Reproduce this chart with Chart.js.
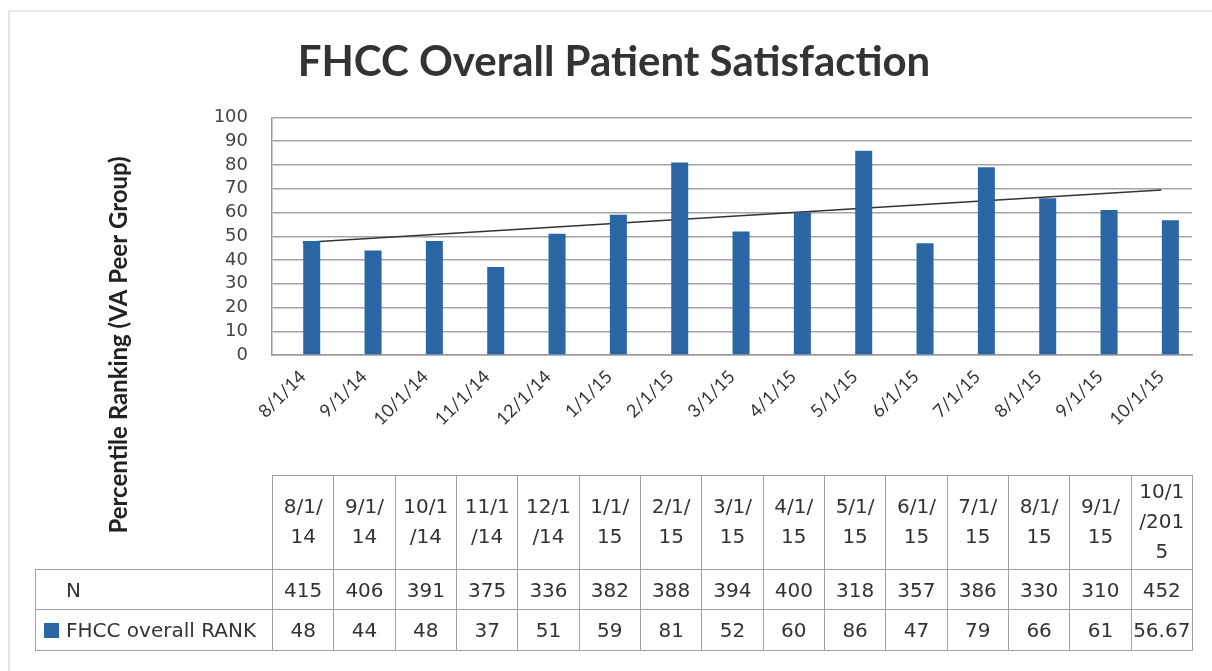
<!DOCTYPE html>
<html>
<head>
<meta charset="utf-8">
<script src="https://cdn.jsdelivr.net/npm/chart.js@4.4.1/dist/chart.umd.min.js"></script>
<style>
  html, body { margin: 0; padding: 0; background: #fff; }
  #wrap { position: relative; width: 1212px; height: 671px; overflow: hidden; }
  #frame { position: absolute; left: 8px; top: 10px; width: 1230px; height: 700px;
           border-left: 2px solid #e4e4e4; border-top: 2px solid #e8e8e8; }
  #chart { position: absolute; left: 0; top: 0; }
  #dataTable { position: absolute; left: 35px; top: 475px; border-collapse: collapse;
               table-layout: fixed; font-family: "DejaVu Sans", Verdana, sans-serif;
               font-size: 20px; color: #333; }
  #dataTable td { border: 1px solid #a0a0a0; text-align: center; padding: 0; }
  #dataTable td.empty { border-top: none; border-left: none; }
  #dataTable td.label { text-align: left; padding-left: 8px; white-space: nowrap; }
  #dataTable tr.head td { line-height: 30px; vertical-align: middle; padding-bottom: 3px; }
  .key { display: inline-block; width: 15px; height: 15px; margin-right: 7px; vertical-align: -1px; }
</style>
</head>
<body>
<div id="wrap">
  <div id="frame"></div>
  <canvas id="chart" width="1212" height="671"></canvas>
  <table id="dataTable"></table>
</div>
<script>
// chart data
const categories = ["8/1/14", "9/1/14", "10/1/14", "11/1/14", "12/1/14", "1/1/15", "2/1/15",
                    "3/1/15", "4/1/15", "5/1/15", "6/1/15", "7/1/15", "8/1/15", "9/1/15", "10/1/15"];
const tableHeaders = ["8/1/14", "9/1/14", "10/1/14", "11/1/14", "12/1/14", "1/1/15", "2/1/15",
                      "3/1/15", "4/1/15", "5/1/15", "6/1/15", "7/1/15", "8/1/15", "9/1/15", "10/1/2015"];
const nValues = [415, 406, 391, 375, 336, 382, 388, 394, 400, 318, 357, 386, 330, 310, 452];
const rankValues = [48, 44, 48, 37, 51, 59, 81, 52, 60, 86, 47, 79, 66, 61, 56.67];
const seriesName = "FHCC overall RANK";
const yMin = 0, yMax = 100, yStep = 10;

const barColor = "#2a66a3";

// least squares trendline, like Excel's linear trendline
function linearTrend(values) {
    const n = values.length;
    let sx = 0, sy = 0, sxy = 0, sxx = 0;
    values.forEach((v, i) => { sx += i; sy += v; sxy += i * v; sxx += i * i; });
    const slope = (n * sxy - sx * sy) / (n * sxx - sx * sx);
    const icpt = (sy - slope * sx) / n;
    return values.map((v, i) => icpt + slope * i);
}

// rotated y axis title, sits lower than the plot centre like the original
const yTitlePlugin = {
    id: "yTitle",
    afterDraw(chart) {
        const ctx = chart.ctx;
        ctx.save();
        ctx.translate(119, 345);
        ctx.rotate(-Math.PI / 2);
        ctx.font = "bold 24px Lato, sans-serif";
        ctx.fillStyle = "#222";
        ctx.textAlign = "center";
        ctx.textBaseline = "middle";
        ctx.fillText("Percentile Ranking (VA Peer Group)", 0, 0);
        ctx.restore();
    }
};

const chart = new Chart(document.getElementById("chart"), {
    type: "bar",
    data: {
        labels: categories,
        datasets: [
            {   // empty slot so the bar sits right of the tick, as in the Excel chart
                label: "spacer",
                data: categories.map(() => null),
                backgroundColor: "rgba(0,0,0,0)"
            },
            {
                label: seriesName,
                data: rankValues,
                backgroundColor: barColor,
                borderWidth: 0
            },
            {
                type: "line",
                label: "Linear (" + seriesName + ")",
                data: linearTrend(rankValues),
                borderColor: "#333",
                borderWidth: 1.6,
                pointRadius: 0,
                fill: false
            }
        ]
    },
    options: {
        responsive: false,
        animation: false,
        devicePixelRatio: 1,
        categoryPercentage: 0.59,
        barPercentage: 0.94,
        layout: { padding: { left: 36, right: 20, top: 0, bottom: 201 } },
        plugins: {
            legend: { display: false },
            tooltip: { enabled: false },
            title: {
                display: true,
                text: "FHCC Overall Patient Satisfaction",
                color: "#333",
                font: { family: "Lato, sans-serif", size: 42, weight: "bold", lineHeight: 1.2 },
                padding: { top: 37, bottom: 30 }
            }
        },
        scales: {
            x: {
                grid: { display: false },
                border: { display: true, color: "#9a9a9a", width: 1.5 },
                ticks: {
                    color: "#333",
                    font: { family: "Lato, sans-serif", size: 18 },
                    autoSkip: false,
                    minRotation: 45,
                    maxRotation: 45,
                    padding: 3
                },
                afterFit(scale) { scale.height = 115; }
            },
            y: {
                min: yMin,
                max: yMax,
                grid: { color: "#a3a3a3", lineWidth: 1.4, drawTicks: false },
                border: { display: true, color: "#9a9a9a", width: 1.5 },
                ticks: {
                    stepSize: yStep,
                    autoSkip: false,
                    color: "#444",
                    font: { family: "DejaVu Sans, sans-serif", size: 18 },
                    padding: 24
                },
                afterFit(scale) { scale.width = 236; }
            }
        }
    },
    plugins: [yTitlePlugin]
});

// data table under the chart, columns lined up with the category slots
function buildTable() {
    const area = chart.chartArea;
    const colW = (area.right - area.left) / categories.length;
    const table = document.getElementById("dataTable");
    const labelW = area.left - 35;
    table.style.width = (labelW + colW * categories.length) + "px";

    let html = "<colgroup><col style='width:" + labelW + "px'>";
    categories.forEach(() => { html += "<col style='width:" + colW + "px'>"; });
    html += "</colgroup>";

    html += "<tr class='head' style='height:93px'><td class='empty'></td>";
    tableHeaders.forEach(h => { html += "<td>" + h.match(/.{1,4}/g).join("<br>") + "</td>"; });
    html += "</tr>";

    html += "<tr style='height:40px'><td class='label'><span class='key'></span>N</td>";
    nValues.forEach(v => { html += "<td>" + v + "</td>"; });
    html += "</tr>";

    html += "<tr style='height:41px'><td class='label'><span class='key' style='background:" + barColor +
            "'></span>" + seriesName + "</td>";
    rankValues.forEach(v => { html += "<td>" + v + "</td>"; });
    html += "</tr>";

    table.innerHTML = html;
}
buildTable();
</script>
</body>
</html>
